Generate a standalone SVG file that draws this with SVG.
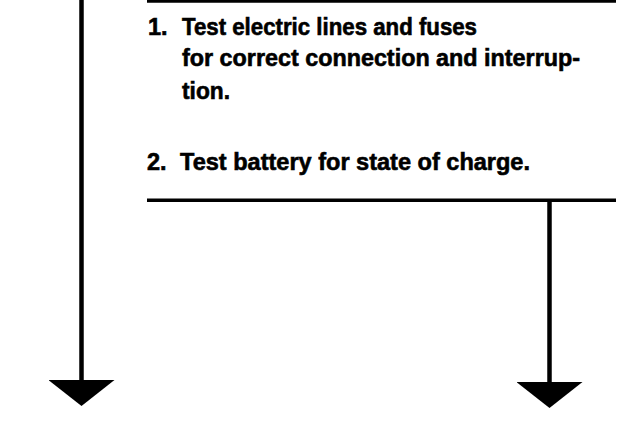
<svg xmlns="http://www.w3.org/2000/svg" width="640" height="434" viewBox="0 0 640 434">
<style>
.ln{stroke:#000;fill:none}
.t{font-family:"Liberation Sans",Arial,sans-serif;font-weight:bold;font-size:23.5px;fill:#000;stroke:#000;stroke-width:0.6}
</style>
<defs>
<marker id="ah" markerUnits="userSpaceOnUse" viewBox="0 -33 26 66" refX="0" refY="0" markerWidth="26" markerHeight="66" orient="auto">
<path d="M0,-33 L0,33 L26,0 Z" fill="#000"/>
</marker>
</defs>
<rect width="640" height="434" fill="#fff"/>
<g id="box">
<line class="ln" x1="147" y1="1.3" x2="616" y2="1.3" stroke-width="3"/>
<line class="ln" x1="147" y1="200.3" x2="616" y2="200.3" stroke-width="3.5"/>
<text class="t" x="148" y="35">1.</text>
<text class="t" x="182" y="35" textLength="295" lengthAdjust="spacingAndGlyphs">Test electric lines and fuses</text>
<text class="t" x="182" y="66" textLength="398" lengthAdjust="spacingAndGlyphs">for correct connection and interrup-</text>
<text class="t" x="182" y="99" textLength="48" lengthAdjust="spacingAndGlyphs">tion.</text>
<text class="t" x="147" y="170">2.</text>
<text class="t" x="180" y="170" textLength="350" lengthAdjust="spacingAndGlyphs">Test battery for state of charge.</text>
</g>
<g id="connectors">
<line class="ln" x1="81.5" y1="0" x2="81.5" y2="380" stroke-width="4.5" marker-end="url(#ah)"/>
<line class="ln" x1="549.5" y1="200" x2="549.5" y2="382" stroke-width="4.5" marker-end="url(#ah)"/>
</g>
</svg>
